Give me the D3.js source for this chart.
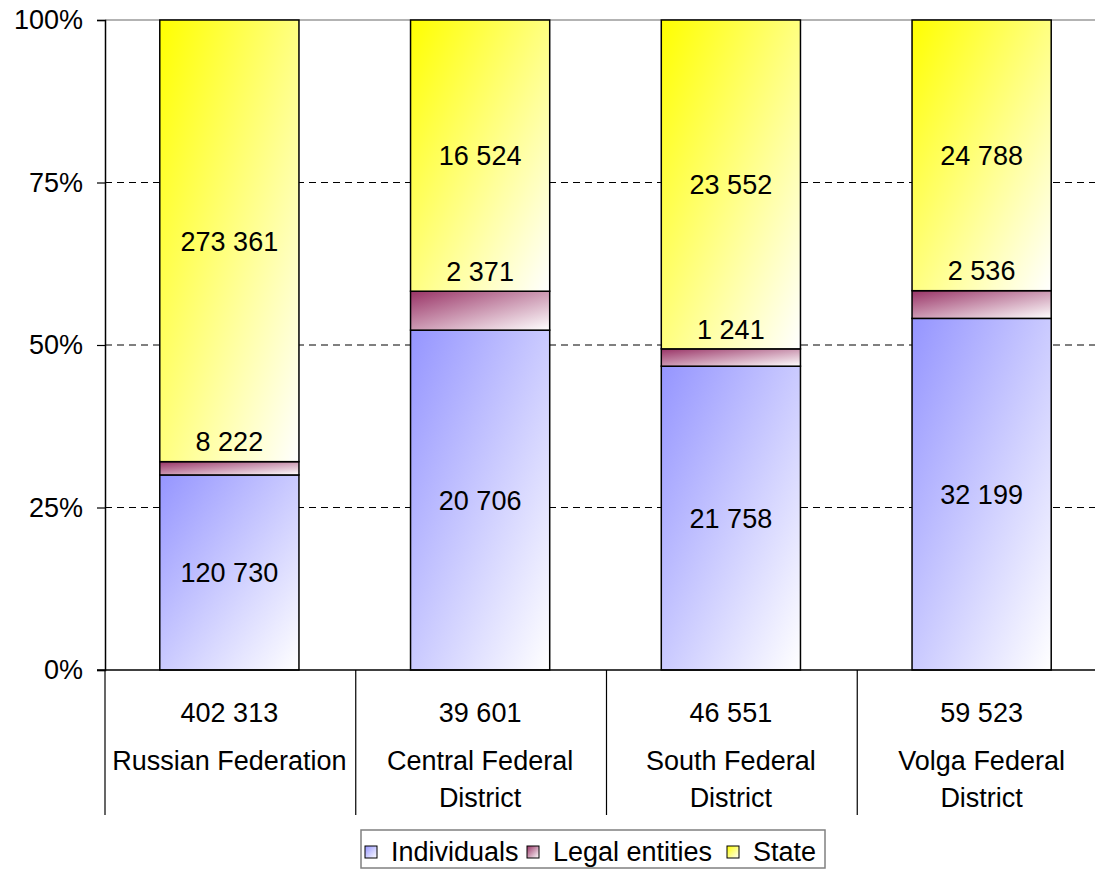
<!DOCTYPE html>
<html>
<head>
<meta charset="utf-8">
<script src="https://cdn.jsdelivr.net/npm/d3@7"></script>
<style>
  html, body { margin: 0; padding: 0; background: #fff; }
  svg { display: block; }
  text { font-family: "Liberation Sans", Arial, sans-serif; fill: #000; }
</style>
</head>
<body>
<svg id="chart" width="1095" height="871"></svg>
<script>
// Ownership structure by region (absolute counts)
const regions = ["Russian Federation", "Central Federal\nDistrict", "South Federal\nDistrict", "Volga Federal\nDistrict"];
const seriesNames = ["Individuals", "Legal entities", "State"];
const individuals = [120730, 20706, 21758, 32199];
const legalEntities = [8222, 2371, 1241, 2536];
const state = [273361, 16524, 23552, 24788];
const totals = [402313, 39601, 46551, 59523];
const yTicks = [0, 0.25, 0.5, 0.75, 1];

const series = [individuals, legalEntities, state];
const gradStops = [
  ["#9595ff", "#ffffff"],
  ["#993366", "#ffffff"],
  ["#ffff00", "#ffffff"]
];

const svg = d3.select("#chart");
const fmt = d3.formatLocale({ decimal: ".", thousands: " ", grouping: [3], currency: ["", ""] }).format(",d");
const fontSize = 27;
// thin "Legal entities" slices get their label lifted just above the slice
const thinLabelGap = 20;

const plotLeft = 105, plotRight = 1107, plotTop = 20, plotBottom = 670;

const x = d3.scaleBand().domain(d3.range(regions.length)).range([plotLeft - 1, plotRight]).padding(0);
const barW = x.bandwidth() * 0.555;
const y = d3.scaleLinear().domain([0, 1]).range([plotBottom, plotTop]);

// gradients
const defs = svg.append("defs");
gradStops.forEach((c, i) => {
  const g = defs.append("linearGradient").attr("id", "grad" + i)
    .attr("x1", 0).attr("y1", 0).attr("x2", 1).attr("y2", 1);
  g.append("stop").attr("offset", "0%").attr("stop-color", c[0]);
  g.append("stop").attr("offset", "100%").attr("stop-color", c[1]);
});

// plot border top and dashed gridlines
svg.append("line").attr("x1", plotLeft).attr("x2", 1095).attr("y1", y(1)).attr("y2", y(1))
  .attr("stroke", "#9a9a9a").attr("stroke-width", 1.5);
svg.append("g").selectAll("line").data(yTicks.filter(t => t > 0 && t < 1)).join("line")
  .attr("x1", plotLeft).attr("x2", 1095)
  .attr("y1", d => y(d)).attr("y2", d => y(d))
  .attr("stroke", "#000").attr("stroke-width", 1).attr("stroke-dasharray", "7,5");

// stacked bars
const stackRows = regions.map((r, i) => {
  const tot = totals[i];
  let acc = 0;
  return series.map((s, k) => {
    const v0 = acc / tot;
    acc += s[i];
    return { i, k, value: s[i], y0: v0, y1: acc / tot };
  });
});

const bars = svg.append("g");
stackRows.forEach(row => {
  row.forEach(d => {
    const cx = x(d.i) + x.bandwidth() / 2;
    bars.append("rect")
      .attr("x", cx - barW / 2)
      .attr("y", y(d.y1))
      .attr("width", barW)
      .attr("height", y(d.y0) - y(d.y1))
      .attr("fill", `url(#grad${d.k})`)
      .attr("stroke", "#000").attr("stroke-width", 1.5);
  });
});

// value labels
stackRows.forEach(row => {
  row.forEach(d => {
    const cx = x(d.i) + x.bandwidth() / 2;
    const cy = d.k === 1 ? y(d.y1) - thinLabelGap : (y(d.y0) + y(d.y1)) / 2;
    svg.append("text")
      .attr("x", cx).attr("y", cy)
      .attr("dy", "0.36em")
      .attr("text-anchor", "middle")
      .attr("font-size", fontSize)
      .text(fmt(d.value));
  });
});

// y axis
const yAxis = d3.axisLeft(y).tickValues(yTicks).tickFormat(d3.format(".0%")).tickSize(8).tickPadding(14);
const ga = svg.append("g").attr("transform", `translate(${plotLeft},0)`).call(yAxis);
ga.select(".domain").attr("stroke", "#000").attr("stroke-width", 1.5);
ga.selectAll(".tick line").attr("stroke", "#000").attr("stroke-width", 1.2);
ga.selectAll(".tick text").attr("font-size", fontSize).attr("font-family", "Liberation Sans, Arial, sans-serif").attr("fill", "#000");

// category axis baseline and separators
svg.append("line").attr("x1", plotLeft - 8).attr("x2", 1095).attr("y1", plotBottom).attr("y2", plotBottom)
  .attr("stroke", "#000").attr("stroke-width", 1.5);
svg.append("g").selectAll("line").data(d3.range(regions.length)).join("line")
  .attr("x1", d => x(d) + 1).attr("x2", d => x(d) + 1)
  .attr("y1", plotBottom).attr("y2", 815)
  .attr("stroke", "#000").attr("stroke-width", 1.2);

// category labels: total + region name
regions.forEach((r, i) => {
  const cx = x(i) + x.bandwidth() / 2;
  svg.append("text").attr("x", cx).attr("y", 722).attr("text-anchor", "middle")
    .attr("font-size", fontSize).text(fmt(totals[i]));
  r.split("\n").forEach((line, j) => {
    svg.append("text").attr("x", cx).attr("y", 770 + j * 37).attr("text-anchor", "middle")
      .attr("font-size", fontSize).text(line);
  });
});

// legend
const lg = svg.append("g");
lg.append("rect").attr("x", 361).attr("y", 830).attr("width", 464).attr("height", 38)
  .attr("fill", "#fff").attr("stroke", "#808080").attr("stroke-width", 1.5);
const legendX = [365, 527, 727];
seriesNames.forEach((name, k) => {
  lg.append("rect").attr("x", legendX[k]).attr("y", 846).attr("width", 12).attr("height", 12)
    .attr("fill", `url(#grad${k})`).attr("stroke", "#000").attr("stroke-width", 1);
  lg.append("text").attr("x", legendX[k] + 26).attr("y", 861)
    .attr("font-size", fontSize).text(name);
});
</script>
</body>
</html>
